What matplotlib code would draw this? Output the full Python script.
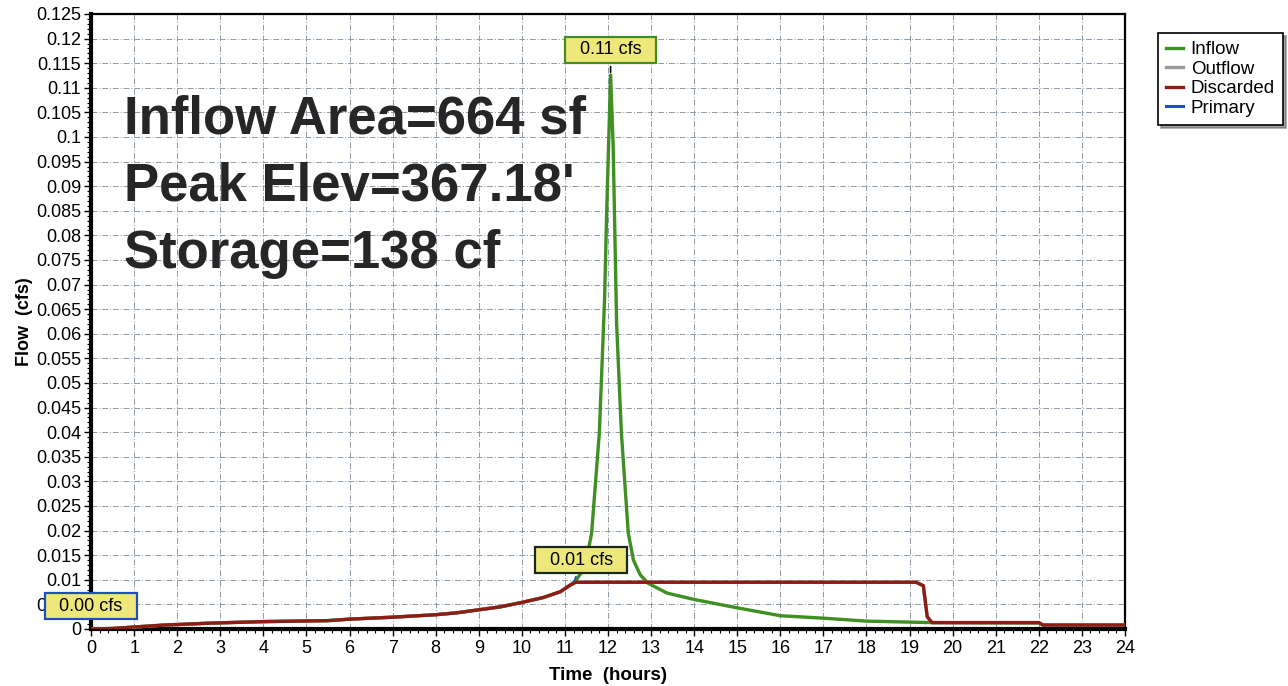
import matplotlib
matplotlib.use('Agg')
import matplotlib.pyplot as plt
import numpy as np
from matplotlib.ticker import MultipleLocator, FuncFormatter

plt.rcParams['font.family'] = ['Liberation Sans', 'DejaVu Sans']

# inflow hydrograph (hours, cfs)
inflow_t = [0, 0.5, 1, 1.7, 2.8, 4, 5.5, 6, 7, 8, 8.5, 9, 9.5, 10, 10.5, 10.9, 11.1,
            11.25, 11.47, 11.62, 11.8, 11.92, 11.97, 12.06, 12.12, 12.16, 12.2,
            12.31, 12.47, 12.59, 12.75, 12.93, 13.37, 14, 15, 16, 17, 18, 19, 19.5,
            22, 22.1, 24]
inflow_q = [0, 0.0001, 0.0004, 0.0008, 0.0012, 0.0015, 0.0017, 0.002, 0.0024, 0.0029,
            0.0033, 0.0039, 0.0045, 0.0054, 0.0064, 0.0076, 0.0088,
            0.0098, 0.0126, 0.0195, 0.040, 0.067, 0.085, 0.1126, 0.098, 0.080, 0.062,
            0.040, 0.0195, 0.014, 0.011, 0.0093, 0.0073, 0.006, 0.0043, 0.0027, 0.0022,
            0.0016, 0.0014, 0.0013, 0.0012, 0.0008, 0.0008]

# discarded (= outflow)
disc_t = [0, 0.5, 1, 1.7, 2.8, 4, 5.5, 6, 7, 8, 8.5, 9, 9.5, 10, 10.5, 10.9, 11.1,
          11.25, 19.15, 19.32, 19.41, 19.52, 22, 22.1, 24]
disc_q = [0, 0.0001, 0.0004, 0.0008, 0.0012, 0.0015, 0.0017, 0.002, 0.0024, 0.0029,
          0.0033, 0.0039, 0.0045, 0.0054, 0.0064, 0.0076, 0.0088,
          0.0095, 0.0095, 0.0088, 0.0025, 0.0013, 0.0013, 0.0008, 0.0008]

primary_t = [0, 24]
primary_q = [0, 0]

green = '#3f8f22'
red = '#8c1c14'
gray = '#9a9a9a'
blue = '#1f4fbf'

fig = plt.figure(figsize=(12.88, 6.86), dpi=100)
ax = fig.add_axes([0.0707, 0.0831, 0.8027, 0.8965])

ax.plot(primary_t, primary_q, color=blue, lw=2.2, label='Primary', zorder=2)
ax.plot(inflow_t, inflow_q, color=green, lw=2.4, label='Inflow', zorder=3)
ax.plot(disc_t, disc_q, color=gray, lw=2.4, label='Outflow', zorder=3.5)
ax.plot(disc_t, disc_q, color=red, lw=2.4, label='Discarded', zorder=4)

ax.set_xlim(0, 24)
ax.set_ylim(0, 0.125)
ax.xaxis.set_major_locator(MultipleLocator(1))
ax.xaxis.set_minor_locator(MultipleLocator(0.2))
ax.yaxis.set_major_locator(MultipleLocator(0.005))
ax.yaxis.set_minor_locator(MultipleLocator(0.001))
ax.yaxis.set_major_formatter(FuncFormatter(lambda v, p: '%g' % round(v, 3)))
ax.tick_params(axis='both', which='major', labelsize=13, length=5, width=1, direction='out')
ax.tick_params(axis='both', which='minor', length=3, width=0.8, direction='out')
ax.tick_params(axis='x', pad=3)
ax.tick_params(axis='y', pad=2)

ax.grid(True, which='major', color='#8e9aa6', lw=0.7, linestyle=(0, (6, 2, 1, 2)))
for side in ['left', 'bottom']:
    ax.spines[side].set_linewidth(3)
for side in ['top', 'right']:
    ax.spines[side].set_linewidth(1.6)

ax.set_xlabel('Time  (hours)', fontsize=13.5, fontweight='bold', labelpad=7)
ax.set_ylabel('Flow  (cfs)', fontsize=13, fontweight='bold', labelpad=2)

# big annotation text
big = dict(fontsize=38, fontweight='bold', color='#262626', transform=ax.transAxes)
ax.text(0.032, 0.805, 'Inflow Area=664 sf', **big)
ax.text(0.032, 0.696, "Peak Elev=367.18'", **big)
ax.text(0.032, 0.587, 'Storage=138 cf', **big)

# value callouts
box_y = '#eee87a'
ax.annotate('  0.11 cfs  ', xy=(12.06, 0.1126), xytext=(12.06, 0.1177),
            fontsize=13, ha='center', va='center',
            bbox=dict(boxstyle='square,pad=0.25', fc=box_y, ec=green, lw=1.6),
            arrowprops=dict(arrowstyle='-', color='black', lw=1.2), zorder=6)
ax.annotate('  0.01 cfs  ', xy=(11.2, 0.0092), xytext=(11.38, 0.014),
            fontsize=13, ha='center', va='center',
            bbox=dict(boxstyle='square,pad=0.25', fc=box_y, ec='#1a2a1a', lw=1.6),
            arrowprops=dict(arrowstyle='-', color=blue, lw=1.2), zorder=6)
ax.text(0.0, 0.0046, '  0.00 cfs  ', fontsize=13, ha='center', va='center',
        bbox=dict(boxstyle='square,pad=0.25', fc=box_y, ec=blue, lw=1.6),
        zorder=6, clip_on=False)

handles, labels = ax.get_legend_handles_labels()
order = ['Inflow', 'Outflow', 'Discarded', 'Primary']
hmap = dict(zip(labels, handles))
leg = fig.legend([hmap[k] for k in order], order, loc='upper left',
                 bbox_to_anchor=(0.899, 0.952), fontsize=13.5, frameon=True,
                 fancybox=False, shadow=True, handlelength=0.9, handletextpad=0.4,
                 labelspacing=0.12, borderpad=0.45, borderaxespad=0)
leg.get_frame().set_edgecolor('black')
leg.get_frame().set_linewidth(1.2)

fig.savefig('out.png', dpi=100)
